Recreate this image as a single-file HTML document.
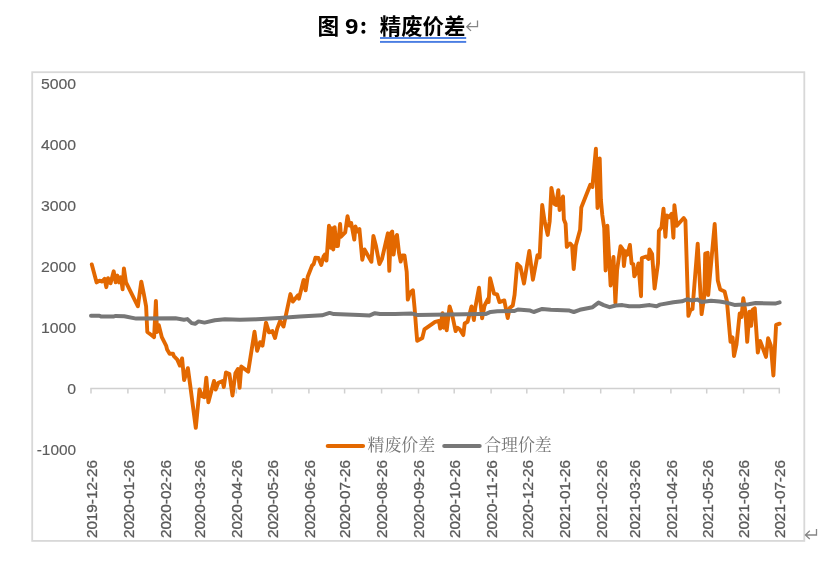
<!DOCTYPE html>
<html><head><meta charset="utf-8"><title>chart</title><style>html,body{margin:0;padding:0;background:#fff;overflow:hidden}body{width:820px;height:563px;font-family:"Liberation Sans",sans-serif}</style></head><body>
<svg width="820" height="563" viewBox="0 0 820 563" style="display:block;font-family:'Liberation Sans',sans-serif">
<defs><filter id="b" x="0" y="0" width="820" height="563" filterUnits="userSpaceOnUse"><feGaussianBlur stdDeviation="0.6"/></filter></defs>
<rect width="820" height="563" fill="#fff"/>
<g filter="url(#b)">
<text x="317.6" y="34.0" font-size="21.7" font-weight="bold" fill="#000" style="font-family:'Liberation Sans','Noto Sans CJK SC',sans-serif">图</text>
<text x="345.0" y="33.6" font-size="22.3" font-weight="bold" fill="#000" textLength="13.4" lengthAdjust="spacingAndGlyphs">9</text>
<circle cx="363.4" cy="23.9" r="2.05" fill="#000"/><circle cx="363.4" cy="31.7" r="2.05" fill="#000"/>
<text x="379.8" y="34.3" font-size="21.4" font-weight="bold" fill="#000" style="font-family:'Liberation Sans','Noto Sans CJK SC',sans-serif">精废价差</text>
<rect x="380" y="37.05" width="86.2" height="1.9" fill="#4a7de2"/>
<rect x="380" y="40.95" width="86.2" height="1.9" fill="#4a7de2"/>
<path d="M477.5 20.6V26.7H467M470.9 22.7L466.8 26.7L471 30.9" fill="none" stroke="#858585" stroke-width="1.3"/>
<rect x="32.2" y="72.2" width="772.1" height="468.7" fill="#fff" stroke="#d8d8d8" stroke-width="1.8"/>
<text x="40.90" y="89.3" font-size="15" fill="#5c5c5c" stroke="#5c5c5c" stroke-width="0.15" textLength="35.20" lengthAdjust="spacingAndGlyphs">5000</text>
<text x="40.90" y="150.3" font-size="15" fill="#5c5c5c" stroke="#5c5c5c" stroke-width="0.15" textLength="35.20" lengthAdjust="spacingAndGlyphs">4000</text>
<text x="40.90" y="211.3" font-size="15" fill="#5c5c5c" stroke="#5c5c5c" stroke-width="0.15" textLength="35.20" lengthAdjust="spacingAndGlyphs">3000</text>
<text x="40.90" y="272.3" font-size="15" fill="#5c5c5c" stroke="#5c5c5c" stroke-width="0.15" textLength="35.20" lengthAdjust="spacingAndGlyphs">2000</text>
<text x="40.90" y="333.3" font-size="15" fill="#5c5c5c" stroke="#5c5c5c" stroke-width="0.15" textLength="35.20" lengthAdjust="spacingAndGlyphs">1000</text>
<text x="67.30" y="394.3" font-size="15" fill="#5c5c5c" stroke="#5c5c5c" stroke-width="0.15" textLength="8.80" lengthAdjust="spacingAndGlyphs">0</text>
<text x="36.70" y="455.3" font-size="15" fill="#5c5c5c" stroke="#5c5c5c" stroke-width="0.15" textLength="39.40" lengthAdjust="spacingAndGlyphs">-1000</text>
<path d="M90.3 388.4H780.0" stroke="#d0d0d0" stroke-width="1.5" fill="none"/>
<path d="M91.0 388.4v5.2M127.9 388.4v5.2M164.8 388.4v5.2M199.4 388.4v5.2M236.3 388.4v5.2M272.0 388.4v5.2M308.9 388.4v5.2M344.6 388.4v5.2M381.6 388.4v5.2M418.5 388.4v5.2M454.2 388.4v5.2M491.1 388.4v5.2M526.8 388.4v5.2M563.8 388.4v5.2M600.7 388.4v5.2M634.0 388.4v5.2M670.9 388.4v5.2M706.7 388.4v5.2M743.6 388.4v5.2M779.3 388.4v5.2" stroke="#d0d0d0" stroke-width="1.5" fill="none"/>
<text transform="translate(96.8,538.1) rotate(-90)" font-size="15" fill="#595959" stroke="#595959" stroke-width="0.3" textLength="78" lengthAdjust="spacingAndGlyphs">2019-12-26</text>
<text transform="translate(133.7,538.1) rotate(-90)" font-size="15" fill="#595959" stroke="#595959" stroke-width="0.3" textLength="78" lengthAdjust="spacingAndGlyphs">2020-01-26</text>
<text transform="translate(170.6,538.1) rotate(-90)" font-size="15" fill="#595959" stroke="#595959" stroke-width="0.3" textLength="78" lengthAdjust="spacingAndGlyphs">2020-02-26</text>
<text transform="translate(205.2,538.1) rotate(-90)" font-size="15" fill="#595959" stroke="#595959" stroke-width="0.3" textLength="78" lengthAdjust="spacingAndGlyphs">2020-03-26</text>
<text transform="translate(242.1,538.1) rotate(-90)" font-size="15" fill="#595959" stroke="#595959" stroke-width="0.3" textLength="78" lengthAdjust="spacingAndGlyphs">2020-04-26</text>
<text transform="translate(277.8,538.1) rotate(-90)" font-size="15" fill="#595959" stroke="#595959" stroke-width="0.3" textLength="78" lengthAdjust="spacingAndGlyphs">2020-05-26</text>
<text transform="translate(314.7,538.1) rotate(-90)" font-size="15" fill="#595959" stroke="#595959" stroke-width="0.3" textLength="78" lengthAdjust="spacingAndGlyphs">2020-06-26</text>
<text transform="translate(350.4,538.1) rotate(-90)" font-size="15" fill="#595959" stroke="#595959" stroke-width="0.3" textLength="78" lengthAdjust="spacingAndGlyphs">2020-07-26</text>
<text transform="translate(387.4,538.1) rotate(-90)" font-size="15" fill="#595959" stroke="#595959" stroke-width="0.3" textLength="78" lengthAdjust="spacingAndGlyphs">2020-08-26</text>
<text transform="translate(424.3,538.1) rotate(-90)" font-size="15" fill="#595959" stroke="#595959" stroke-width="0.3" textLength="78" lengthAdjust="spacingAndGlyphs">2020-09-26</text>
<text transform="translate(460.0,538.1) rotate(-90)" font-size="15" fill="#595959" stroke="#595959" stroke-width="0.3" textLength="78" lengthAdjust="spacingAndGlyphs">2020-10-26</text>
<text transform="translate(496.9,538.1) rotate(-90)" font-size="15" fill="#595959" stroke="#595959" stroke-width="0.3" textLength="78" lengthAdjust="spacingAndGlyphs">2020-11-26</text>
<text transform="translate(532.6,538.1) rotate(-90)" font-size="15" fill="#595959" stroke="#595959" stroke-width="0.3" textLength="78" lengthAdjust="spacingAndGlyphs">2020-12-26</text>
<text transform="translate(569.6,538.1) rotate(-90)" font-size="15" fill="#595959" stroke="#595959" stroke-width="0.3" textLength="78" lengthAdjust="spacingAndGlyphs">2021-01-26</text>
<text transform="translate(606.5,538.1) rotate(-90)" font-size="15" fill="#595959" stroke="#595959" stroke-width="0.3" textLength="78" lengthAdjust="spacingAndGlyphs">2021-02-26</text>
<text transform="translate(639.8,538.1) rotate(-90)" font-size="15" fill="#595959" stroke="#595959" stroke-width="0.3" textLength="78" lengthAdjust="spacingAndGlyphs">2021-03-26</text>
<text transform="translate(676.7,538.1) rotate(-90)" font-size="15" fill="#595959" stroke="#595959" stroke-width="0.3" textLength="78" lengthAdjust="spacingAndGlyphs">2021-04-26</text>
<text transform="translate(712.5,538.1) rotate(-90)" font-size="15" fill="#595959" stroke="#595959" stroke-width="0.3" textLength="78" lengthAdjust="spacingAndGlyphs">2021-05-26</text>
<text transform="translate(749.4,538.1) rotate(-90)" font-size="15" fill="#595959" stroke="#595959" stroke-width="0.3" textLength="78" lengthAdjust="spacingAndGlyphs">2021-06-26</text>
<text transform="translate(785.1,538.1) rotate(-90)" font-size="15" fill="#595959" stroke="#595959" stroke-width="0.3" textLength="78" lengthAdjust="spacingAndGlyphs">2021-07-26</text>
<polyline points="91.8,264.5 96.6,282.4 99.5,280.7 102.1,281.6 104.6,278.7 106.3,287.2 108,278.2 110.6,283.3 113.7,271.3 115.7,282.4 117.4,275.6 119.1,282.4 120.9,277.3 122.6,289.3 123.9,268.4 126,282.4 137.9,306.3 141.3,281.6 143.9,294.4 146.1,306.3 147.3,332 150.7,334.5 154.1,337.1 155.9,300.9 157,332 158.8,325.1 161.8,337.1 166.1,345.6 167.1,349.4 169.6,353.7 173,353.7 173.9,356.2 177.3,359.6 179.9,365.6 182.1,358.4 184.1,380.1 187.9,368.2 190.1,384.4 195.8,427.9 199.5,389.5 202.1,396.3 204.3,397.2 206.3,377.6 208.4,402.3 214,381 215.7,389.5 218.3,382.7 222.6,381 223.8,387 226,372.4 229.4,374.1 232.5,395.5 235.4,373.3 237.9,369 239.6,387.8 241.3,366.5 248.2,371.6 254.5,331.7 257.1,350.8 260.1,342.2 262.5,345.7 266,322.6 269,332.3 272.4,331.1 275,338 277.2,328.6 280.1,320.9 283.5,326.5 290.4,294.1 292.9,301.6 298,295.3 298.9,298.7 303.6,280 305.6,290.4 307.7,276.8 312,265.7 313.7,264 315.4,257.7 318.4,258 321.3,264.9 323.6,256.3 324.8,254.6 326.5,260.6 329,225.6 330.7,247.8 331.9,228.2 333.3,249.5 334.7,227.3 336.2,246.1 337.9,246.1 340.1,223.9 341,236.7 345.2,232.4 347.5,216.2 349.5,225.6 351.2,223 354.3,239.6 355.5,226.5 357.2,231.6 359.4,229 362.3,259.8 364.5,249.5 368.3,256.3 371.4,261.8 373.4,235.9 376,246.1 379.4,264 382,258.9 387.9,233.3 389.3,270.9 390.8,233.3 392.2,231.6 393.6,254.6 395.6,237.6 397,235 399,252.9 400.7,261.5 402.1,255.5 404.5,255.5 406.7,271.7 407.8,299.6 410,292.7 412.9,290.2 414.6,308.1 416.3,330.3 417.2,340.9 422.3,338 424.4,329.4 435.1,321.8 439,320.9 440.2,328.6 442.5,313.2 443.7,327.7 445.4,316.6 446.7,330.3 449.6,306.4 452.2,314.9 455.6,331.1 457.3,327.7 459.9,329.4 463.3,335.1 464.7,323.5 467.6,321.8 471.5,306.4 473.9,320 475.2,308.1 479,287.6 482.1,318.3 484.6,305.5 488.1,298.7 488.6,302.1 490.1,278.2 494,293.6 497.1,294.4 499.5,302.1 504.3,300.4 507.7,318 509.7,308.1 512.8,305.5 514.6,294.6 517.2,263.8 520.4,266.9 524,283.5 529.3,251 532.9,279.7 537.5,255.2 539.6,257.4 542.2,205 544.6,221.2 547.7,234.9 549.7,221.2 551.4,187.9 554.5,204.1 556.2,205 558.3,190.1 559.6,210.1 563,196.5 563.9,219.5 565.6,223.8 566.8,246.8 570,243.5 572.1,245.6 573.7,269.1 575.8,245.6 580.1,229.8 581.3,207.5 590.3,184.8 592.4,187 595.9,148.7 597.5,208 599.7,158.4 600.9,200 602.3,215 604.2,228 605.6,270.5 607.4,225.8 610.6,285.5 613.5,257 615.4,303 617.1,270 620.5,246.2 623,249.6 623.9,266 625.6,251.3 627.3,254.8 629.9,244.9 631.6,263.5 633.3,264.1 634.3,276.4 636.7,272 638.4,263.5 641,296.2 641.8,258 646.1,256.5 648.7,259 649.5,249.5 652.1,253.9 654.6,288.5 658,263.3 658.9,230.9 661.5,227.4 663.5,208.7 665.4,236.8 666.9,215.5 669.1,217.2 671.7,213.8 673.4,237.7 674.4,205.2 676.8,225.7 683.7,218 685.4,220.6 688.4,315.9 690.5,309.9 692.5,309 697.7,243.7 701.6,314.1 704.3,296 705.2,253.7 707.7,252.8 708.2,295 714.7,224 717.8,280.4 720.2,289.4 724.6,291.5 726.9,301 730.5,341.8 732.6,337.4 734,356 736.5,344.5 739.7,313.4 741.5,317 743.3,298.3 745.4,311.6 747.2,341.8 749.5,311.6 751.2,325.8 752.5,309.9 754.8,308.4 757.8,352.5 760.1,340.9 762.8,348 766,356.9 768.1,338.3 770.8,345.4 773.4,375.5 776.1,324.9 779.6,323.7" fill="none" stroke="#e36802" stroke-width="3.9" stroke-linejoin="round" stroke-linecap="round"/>
<polyline points="91,315.7 99.5,315.7 101.4,316.6 114,316.4 115.7,315.9 124.3,316.2 136.2,318.6 175.5,318.3 184,319.7 187.4,319.1 191.7,323.1 195.1,323.8 198.5,321.4 204.5,322.6 214.8,320.3 225,319.3 240,319.8 257,319.2 279.3,318 299.8,316.6 322,315.3 329.6,312.9 333.9,314.1 359.5,314.9 369.8,315.4 374.9,313.2 380,314 395,314.1 412,313.6 417.2,314.9 480.4,314.1 485.5,314.1 490.6,311.9 497.4,311.2 514.5,311 517.9,309.5 530.2,310.6 533.7,312 542.2,308.9 550.7,309.8 569.5,310.6 573.8,312 579.8,309.8 592.6,307.2 598.5,302.6 603.7,305.1 609.6,307.2 615.6,305.5 622.4,305.1 629.3,306.3 639.5,306.3 649.8,305.1 656.6,306.3 660,304.6 673.4,302.2 682,301.3 687.1,299.3 692.2,300.5 697.3,299.6 701.6,301.9 711,300.8 719.5,301.5 725.5,302.4 734.4,304.9 748.6,304.2 755.7,303.1 775.2,303.6 779.6,302.4" fill="none" stroke="#777777" stroke-width="4.0" stroke-linejoin="round" stroke-linecap="round"/>
<path d="M327.8 446H363.0" stroke="#e36802" stroke-width="4.2" stroke-linecap="round"/>
<text x="367.6" y="451.3" font-size="16.9" fill="#757575" style="font-family:'Liberation Serif','Noto Serif CJK SC',serif">精废价差</text>
<path d="M444.3 446H479.6" stroke="#777777" stroke-width="4.2" stroke-linecap="round"/>
<text x="484.2" y="451.3" font-size="16.9" fill="#757575" style="font-family:'Liberation Serif','Noto Serif CJK SC',serif">合理价差</text>
<path d="M816.5 529V535H805.6M809.8 530.8L805.4 535L809.8 539" fill="none" stroke="#858585" stroke-width="1.3"/>
</g>
</svg>
</body></html>
